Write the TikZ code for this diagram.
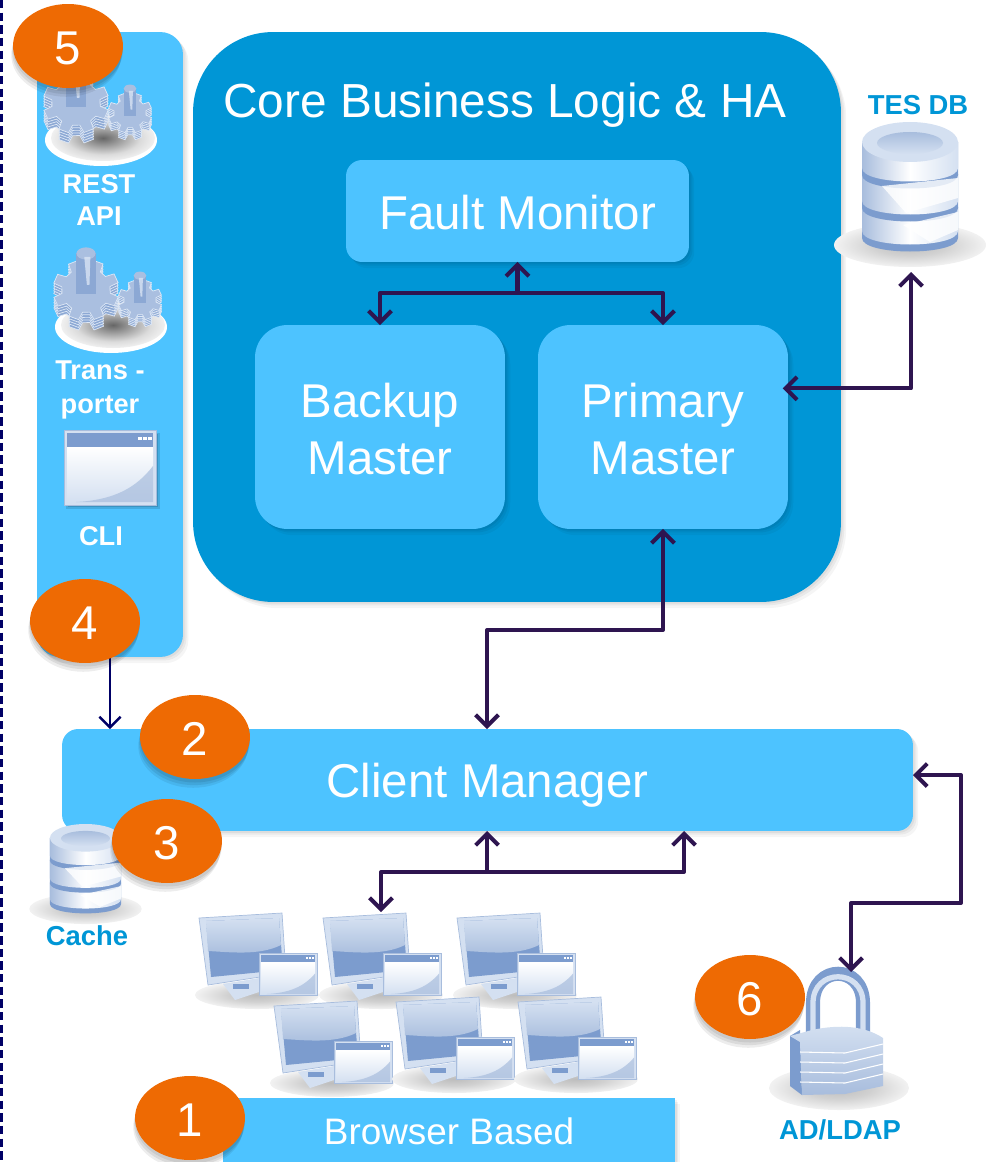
\documentclass[tikz,border=0pt]{standalone}
\usepackage{fontspec}
\setmainfont{Liberation Sans}
\usetikzlibrary{shapes.geometric,arrows.meta,shadows}
\definecolor{PanelCol}{RGB}{77,195,255}
\definecolor{CoreCol}{RGB}{0,150,214}
\definecolor{BadgeCol}{RGB}{238,106,3}
\definecolor{LinkCol}{RGB}{46,21,80}
\definecolor{NavyCol}{RGB}{0,0,102}
\definecolor{GearFace}{RGB}{170,191,224}
\definecolor{GearSide}{RGB}{140,168,212}
\definecolor{GearEdge}{RGB}{222,232,246}
\definecolor{IconEdge}{RGB}{168,189,221}
\definecolor{IconDark}{RGB}{124,156,206}
\definecolor{IconSoft}{RGB}{212,224,241}
\pgfdeclareradialshading{plinthshade}{\pgfpoint{0bp}{0bp}}{color(0bp)=(black!60); color(7bp)=(black!42); color(18bp)=(black!14); color(30bp)=(white); color(50bp)=(white)}
\pgfdeclareradialshading{floorshade}{\pgfpoint{0bp}{0bp}}{color(0bp)=(black!26); color(12bp)=(black!18); color(24bp)=(black!6); color(33bp)=(white); color(50bp)=(white)}
\tikzset{
  softshadow/.style={
    general shadow={fill=black,opacity=.05,shadow xshift=1pt,shadow yshift=-1pt},
    general shadow={fill=black,opacity=.05,shadow xshift=2pt,shadow yshift=-2pt},
    general shadow={fill=black,opacity=.04,shadow xshift=3pt,shadow yshift=-3.5pt}},
  badgeshadow/.style={
    general shadow={fill=black,opacity=.08,shadow xshift=0pt,shadow yshift=-2pt},
    general shadow={fill=black,opacity=.08,shadow xshift=-.5pt,shadow yshift=-3.5pt},
    general shadow={fill=black,opacity=.07,shadow xshift=-1pt,shadow yshift=-5pt}},
  box/.style={softshadow,fill=PanelCol,text=white,inner sep=0pt,outer sep=0pt,align=center,font=\fontsize{27}{32.5}\selectfont},
  badge/.style={badgeshadow,ellipse,fill=BadgeCol,text=white,inner sep=0pt,minimum width=2.2cm,minimum height=1.68cm,text height=21.5pt,text depth=0pt,font=\fontsize{27}{32}\selectfont},
  iconlabel/.style={text=white,align=center,font=\fontsize{15.5}{18.5}\selectfont\bfseries},
  dblabel/.style={text=CoreCol,font=\fontsize{15.6}{18.5}\selectfont\bfseries},
  link/.style={draw=LinkCol,line width=2.3pt,line join=round,{Straight Barb[length=6.5pt,width=13pt]}-{Straight Barb[length=6.5pt,width=13pt]}},
  linkend/.style={draw=LinkCol,line width=2.3pt,-{Straight Barb[length=6.5pt,width=13pt]}},
  plinth/.style={shading=plinthshade},
  floor/.style={shading=floorshade},
  pics/gear/.style={code={
    \foreach \lift/\tone in {12/GearSide,9/GearSide,6/GearSide,3/GearSide,0/GearFace}{
      \draw[draw=GearEdge,line width=.4pt,fill=\tone,shift={(0,\lift)},yscale=.92]
        (8:28) \foreach \a in {22,67,...,337}{ -- (\a-14:28) -- (\a-9:38) -- (\a+9:38) -- (\a+14:28) } -- cycle;
    }
    \fill[GearSide] (-11,5) rectangle (11,-42);
    \fill[GearFace] (0,-42) ellipse [x radius=11,y radius=7];
    \fill[GearEdge,opacity=.75] (-2,-38) -- (5,-38) -- (4,-6) -- (1,-6) -- cycle;
  }},
  pics/gearset/.style={code={
    \fill[white] (0,0) ellipse [x radius=56,y radius=26];
    \shade[plinth] (2,-2) ellipse [x radius=52,y radius=23];
    \pic[scale=.87] at (-25,-37) {gear};
    \pic[scale=.58] at (29,-27) {gear};
  }},
  pics/dbstack/.style={code={
    \shade[floor] (0,123) ellipse [x radius=76,y radius=22];
    \foreach \up/\low in {85/109,52/79,20/46}{
      \fill[IconDark] (-48,\up) -- (-48,\low+7) .. controls (-48,\low+25) and (48,\low+25) .. (48,\low+7) -- (48,\up) -- cycle;
      \shade[left color=IconEdge,right color=IconSoft,middle color=white] (-48,\up) -- (-48,\low) .. controls (-48,\low+18) and (48,\low+18) .. (48,\low) -- (48,\up) -- cycle;
    }
    \fill[IconSoft] (0,20) ellipse [x radius=48,y radius=20];
    \shade[top color=IconEdge,bottom color=IconSoft] (0,21) ellipse [x radius=33,y radius=11];
    \fill[white,opacity=.8] (-28,64) -- (48,56) -- (48,76) -- (-4,91) -- cycle;
    \fill[white,opacity=.8] (-7,103) -- (48,90) -- (48,108) -- (20,120) -- cycle;
  }},
  pics/winbox/.style={code={
    \fill[IconSoft,draw=IconEdge,line width=.4pt] (0,0) rectangle (92,75);
    \fill[IconDark] (3,3) rectangle (89,17);
    \shade[top color=white,bottom color=IconSoft] (3,17) rectangle (89,72);
    \fill[IconEdge,opacity=.7] (12,72) .. controls (50,70) and (72,58) .. (89,36) -- (89,72) -- cycle;
    \foreach \dot in {74,79,84} \fill[white] (\dot,7) rectangle (\dot+3.5,10);
  }},
  pics/monitor/.style={code={
    \shade[floor] (58,77) ellipse [x radius=62,y radius=14];
    \fill[IconSoft] (24,66) -- (60,60) -- (66,72) -- (36,82) -- cycle;
    \fill[IconDark] (34,66) rectangle (50,71);
    \fill[IconSoft,draw=IconEdge,line width=.4pt] (0,0) -- (83,-5) -- (87,55) -- (9,67) -- cycle;
    \fill[IconDark] (7,3) -- (80,0) -- (84,52) -- (12,59) -- cycle;
    \shade[top color=IconSoft,bottom color=IconEdge] (7,3) -- (80,0) -- (82,27) .. controls (60,38) and (30,34) .. (9,33) -- cycle;
    \pic[xscale=.63,yscale=.57] at (60,35) {winbox};
  }}
}
\begin{document}
\begin{tikzpicture}[x=.02cm,y=-.02cm]
  \useasboundingbox (0,0) rectangle (988,1162);
  \draw[NavyCol,line width=1.7pt,dash pattern=on 4.8pt off 2.4pt] (1.5,0) -- (1.5,1162);

  % service panel and core block
  \node[box,rounded corners=.45cm,minimum width=2.92cm,minimum height=12.5cm] (panel) at (110,344.5) {};
  \node[box,fill=CoreCol,rounded corners=1.6cm,minimum width=12.96cm,minimum height=11.4cm] (core) at (517,317) {};
  \node[text=white,font=\fontsize{27.2}{32}\selectfont] (coretitle) at (505,105) {Core Business Logic \& HA};
  \node[box,rounded corners=.32cm,minimum width=6.86cm,minimum height=2.04cm,text height=21pt] (fault) at (517.5,211) {Fault Monitor};
  \node[box,rounded corners=.65cm,minimum width=5cm,minimum height=4.08cm,text height=54pt] (backup) at (380,427) {Backup\\Master};
  \node[box,rounded corners=.65cm,minimum width=5cm,minimum height=4.08cm,text height=54pt] (primary) at (663,427) {Primary\\Master};
  \node[box,rounded corners=.32cm,minimum width=17.02cm,minimum height=2.04cm,text depth=0pt] (client) at (487.5,780) {Client Manager};

  \pic at (101,140) {gearset};
  \pic at (111,327) {gearset};
  \fill[black,opacity=.12] (66,433) rectangle (160,509);
  \fill[black,opacity=.14] (68,434) rectangle (158,507);
  \pic at (64,430) {winbox};
  \node[iconlabel] (restlabel) at (99,200) {REST\\API};
  \node[iconlabel] (translabel) at (100,390) {Trans -\\[1pt]porter};
  \node[iconlabel] (clilabel) at (101,536) {CLI};

  % database, cache
  \pic at (910,122) {dbstack};
  \pic[xscale=.74,yscale=.69] at (85.5,824) {dbstack};
  \node[dblabel] (dblabel) at (918,105) {TES DB};
  \node[dblabel] (cachelabel) at (87,936) {Cache};

  % browsers
  \pic at (199,918) {monitor};
  \pic at (323,918) {monitor};
  \pic at (457,918) {monitor};
  \pic at (274,1006) {monitor};
  \pic at (396,1002) {monitor};
  \pic at (518,1002) {monitor};
  \node[box,minimum width=9.04cm,minimum height=1.32cm,font=\fontsize{21}{25}\selectfont] (browser) at (449,1131) {Browser Based};

  % padlock
  \shade[floor] (839,1088) ellipse [x radius=70,y radius=22];
  \draw[IconDark,line width=8pt] (813,1040) -- (813,1003) .. controls (813,964) and (863,964) .. (863,1003) -- (863,1040);
  \draw[IconSoft,line width=3pt] (813,1040) -- (813,1003) .. controls (813,968) and (863,968) .. (863,1003) -- (863,1040);
  \fill[IconDark] (790,1036) -- (800,1030) -- (802,1095) -- (790,1086) -- cycle;
  \shade[top color=IconSoft,bottom color=IconEdge] (800,1042) -- (790,1036) -- (812,1030) .. controls (840,1024) and (865,1026) .. (883,1038) -- (883,1086) -- (845,1094) -- (802,1095) -- cycle;
  \foreach \rib in {1052,1062,1072,1082}
    \draw[white,line width=.6pt] (800,\rib) -- (845,\rib+1) -- (883,\rib-8);

  % connectors
  \coordinate (faultbus) at (517.5,293);
  \coordinate (dbtip) at (911,272);
  \coordinate (corebend) at (487,630);
  \coordinate (clientbus) at (487,872);
  \coordinate (busleft) at (381,872);
  \coordinate (busright) at (684,872);
  \coordinate (monitortip) at (381,912);
  \coordinate (ldapbend) at (961,903);
  \coordinate (locktip) at (851,972);
  \draw[link] (backup.north) -- (backup.north |- faultbus) -- (primary.north |- faultbus) -- (primary.north);
  \draw[linkend] (faultbus) -- (fault.south);
  \draw[link] ([xshift=-3pt,yshift=22pt]primary.east) -| (dbtip);
  \draw[link] (primary.south) |- (corebend) -- (client.north -| corebend);
  \draw[link] (monitortip) -- (busleft) -- (busright) -- (busright |- client.south);
  \draw[linkend] (clientbus) -- (clientbus |- client.south);
  \draw[link] ([yshift=2.8pt]client.east) -| (ldapbend) -| (locktip);
  \draw[NavyCol,line width=1.4pt,-{Straight Barb[length=6pt,width=12pt]}] (panel.south) -- (panel.south |- client.north);

  % numbered badges
  \node[badge] (badgefive) at (68,46) {5};
  \node[badge] (badgefour) at (85,621) {4};
  \node[badge] (badgetwo) at (195,737) {2};
  \node[badge] (badgethree) at (167,841) {3};
  \node[badge] (badgesix) at (750,997) {6};
  \node[badge] (badgeone) at (190,1118) {1};
  \node[dblabel] (ldaplabel) at (840,1130) {AD/LDAP};
\end{tikzpicture}
\end{document}
